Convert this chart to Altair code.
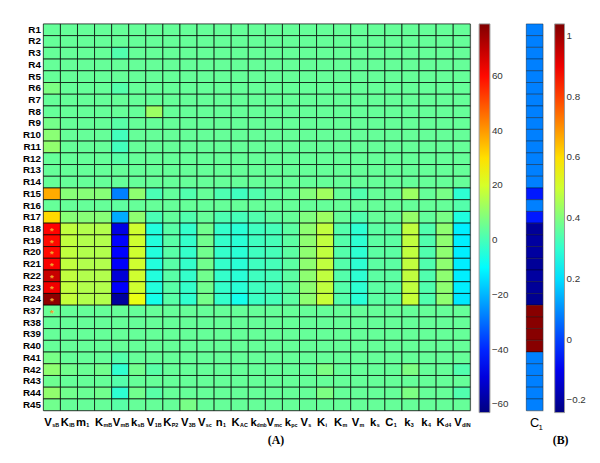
import altair as alt
import pandas as pd

# ---------------- data ----------------
rows = ["R1", "R2", "R3", "R4", "R5", "R6", "R7", "R8", "R9", "R10", "R11", "R12",
        "R13", "R14", "R15", "R16", "R17", "R18", "R19", "R20", "R21", "R22", "R23",
        "R24", "R37", "R38", "R39", "R40", "R41", "R42", "R43", "R44", "R45"]

cols = ["VsB", "KIB", "m1", "KmB", "VmB", "ksB", "V1B", "KP2", "V3B", "Vsc", "n1", "KAC",
        "kdmb", "Vmc", "kpc", "Vs", "Ki", "Km", "Vm", "ks", "C1", "k3", "k4", "Kd4", "VdIN"]

r01 = [4.5, 4.5, 4.5, 4.5, 4.5, 4.5, 4.5, 4.5, 4.5, 4.5, 4.5, 4.5, 4.5, 4.5, 4.5, 4.5, 4.5, 4.5, 4.5, 4.5, 4.5, 4.5, 4.5, 4.5, 4.5]
r02 = [4.5, 4.5, 4.5, 4.5, 4.5, 4.5, 4.5, 4.5, 4.5, 4.5, 4.5, 4.5, 4.5, 4.5, 4.5, 4.5, 4.5, 4.5, 4.5, 4.5, 4.5, 4.5, 4.5, 4.5, 4.5]
r03 = [4.5, 4.5, 4.5, 4.5, 1.5, 4.5, 4.5, 4.5, 4.5, 4.5, 4.5, 4.5, 4.5, 4.5, 4.5, 4.5, 4.5, 4.5, 4.5, 4.5, 4.5, 4.5, 4.5, 4.5, 4.5]
r04 = [4.5, 4.5, 4.5, 4.5, 4.5, 4.5, 4.5, 4.5, 4.5, 4.5, 4.5, 4.5, 4.5, 4.5, 4.5, 4.5, 4.5, 4.5, 4.5, 4.5, 4.5, 4.5, 4.5, 4.5, 4.5]
r05 = [4.5, 4.5, 4.5, 4.5, 4.5, 4.5, 4.5, 4.5, 4.5, 4.5, 4.5, 4.5, 4.5, 4.5, 4.5, 4.5, 4.5, 4.5, 4.5, 4.5, 4.5, 4.5, 4.5, 4.5, 4.5]
r06 = [7.5, 4.5, 4.5, 4.5, 2.0, 4.5, 4.5, 4.5, 4.5, 4.5, 4.5, 4.5, 4.5, 4.5, 4.5, 4.5, 4.5, 4.5, 4.5, 4.5, 4.5, 4.5, 4.5, 4.5, 4.5]
r07 = [4.5, 4.5, 4.5, 4.5, 4.5, 4.5, 4.5, 4.5, 4.5, 4.5, 4.5, 4.5, 4.5, 4.5, 4.5, 4.5, 4.5, 4.5, 4.5, 4.5, 4.5, 4.5, 4.5, 4.5, 4.5]
r08 = [4.5, 4.5, 4.5, 4.5, 4.5, 4.5, 12.0, 4.5, 4.5, 4.5, 4.5, 4.5, 4.5, 4.5, 4.5, 4.5, 4.5, 4.5, 4.5, 4.5, 4.5, 4.5, 4.5, 4.5, 4.5]
r09 = [6.5, 4.5, 4.5, 4.5, 2.5, 4.5, 4.5, 4.5, 4.5, 4.5, 4.5, 4.5, 4.5, 4.5, 4.5, 4.5, 4.5, 4.5, 4.5, 4.5, 4.5, 4.5, 4.5, 4.5, 4.5]
r10 = [9.5, 4.5, 4.5, 4.5, -0.5, 4.5, 4.5, 4.5, 4.5, 4.5, 4.5, 4.5, 4.5, 4.5, 4.5, 4.5, 4.5, 4.5, 4.5, 4.5, 4.5, 4.5, 4.5, 4.5, 4.5]
r11 = [10.5, 4.5, 4.5, 4.5, -0.5, 4.5, 4.5, 4.5, 4.5, 4.5, 4.5, 4.5, 4.5, 4.5, 4.5, 4.5, 4.5, 4.5, 4.5, 4.5, 4.5, 4.5, 4.5, 4.5, 4.5]
r12 = [4.5, 4.5, 4.5, 4.5, 2.5, 4.5, 4.5, 4.5, 4.5, 4.5, 4.5, 4.5, 4.5, 4.5, 4.5, 4.5, 4.5, 4.5, 4.5, 4.5, 4.5, 4.5, 4.5, 4.5, 4.5]
r13 = [4.5, 4.5, 4.5, 4.5, 4.5, 4.5, 4.5, 4.5, 4.5, 4.5, 4.5, 4.5, 4.5, 4.5, 4.5, 4.5, 4.5, 4.5, 4.5, 4.5, 4.5, 4.5, 4.5, 4.5, 4.5]
r14 = [4.5, 4.5, 4.5, 4.5, 4.5, 4.5, 4.5, 4.5, 4.5, 4.5, 4.5, 4.5, 4.5, 4.5, 4.5, 4.5, 4.5, 4.5, 4.5, 4.5, 4.5, 4.5, 4.5, 4.5, 4.5]
r15 = [37.5, 9.0, 9.0, 9.0, -27.5, 10.0, 0.5, 4.0, 1.5, 4.5, 1.0, -1.0, 1.5, 3.5, 4.5, 8.5, 12.5, 4.5, 1.5, 4.5, 4.5, 12.0, 4.5, 7.0, -3.5]
r16 = [4.5, 4.5, 4.5, 4.5, 3.5, 4.5, 4.5, 4.5, 4.5, 4.5, 4.5, 4.5, 4.5, 4.5, 4.5, 4.5, 4.5, 4.5, 4.5, 4.5, 4.5, 4.5, 4.5, 4.5, 2.0]
r17 = [31.0, 9.0, 9.0, 9.0, -21.5, 10.0, 0.5, 4.0, 1.5, 4.5, 1.0, 0.0, 1.5, 3.5, 4.5, 8.0, 12.0, 4.5, 1.5, 4.5, 4.5, 11.0, 4.0, 7.0, -5.5]
r18 = [61.0, 17.0, 15.0, 15.0, -49.0, 19.0, -5.0, 2.5, -2.5, 6.0, -2.5, -4.0, -1.0, 0.0, 3.0, 10.0, 17.0, 2.0, -3.5, 3.0, 3.0, 17.0, 1.5, 10.0, -12.0]
r19 = [60.0, 17.0, 15.0, 15.0, -45.0, 19.0, -5.0, 2.5, -2.5, 6.0, -2.5, -4.0, -1.0, 0.0, 3.0, 10.0, 17.0, 2.0, -3.5, 3.0, 3.0, 17.0, 1.5, 10.0, -12.0]
r20 = [60.0, 17.0, 15.0, 15.0, -45.0, 19.0, -5.0, 2.5, -2.5, 6.0, -2.5, -4.0, -1.0, 0.0, 3.0, 10.0, 17.0, 2.0, -3.5, 3.0, 3.0, 17.0, 1.5, 10.0, -12.0]
r21 = [62.0, 17.0, 15.0, 15.0, -46.0, 19.0, -5.0, 2.5, -2.5, 6.0, -2.5, -4.0, -1.0, 0.0, 3.0, 10.0, 17.0, 2.0, -3.5, 3.0, 3.0, 17.0, 1.5, 10.0, -12.0]
r22 = [69.0, 17.0, 15.0, 15.0, -51.0, 19.0, -5.0, 2.5, -2.5, 6.0, -2.5, -4.0, -1.0, 0.0, 3.0, 10.0, 17.0, 2.0, -3.5, 3.0, 3.0, 17.0, 1.5, 10.0, -12.0]
r23 = [63.0, 17.0, 15.0, 15.0, -46.0, 19.0, -5.0, 2.5, -2.5, 6.0, -2.5, -4.0, -1.0, 0.0, 3.0, 10.0, 17.0, 2.0, -3.5, 3.0, 3.0, 17.0, 1.5, 10.0, -12.0]
r24 = [77.0, 17.5, 15.0, 15.0, -59.0, 23.0, -7.0, 2.5, -3.0, 6.5, -2.5, -7.0, -1.5, 0.0, 3.0, 10.0, 18.0, 2.0, -4.0, 3.0, 3.0, 18.0, 1.5, 10.0, -13.0]
r37 = [5.0, 4.5, 4.5, 4.5, 4.5, 4.5, 4.5, 4.5, 4.5, 4.5, 4.5, 4.5, 4.5, 4.5, 4.5, 4.5, 4.5, 4.5, 4.5, 4.5, 4.5, 4.5, 4.5, 4.5, 4.5]
r38 = [4.5, 4.5, 4.5, 4.5, 4.5, 4.5, 4.5, 4.5, 4.5, 4.5, 4.5, 4.5, 4.5, 4.5, 4.5, 4.5, 4.5, 4.5, 4.5, 4.5, 4.5, 4.5, 4.5, 4.5, 4.5]
r39 = [4.5, 4.5, 4.5, 4.5, 4.5, 4.5, 4.5, 4.5, 4.5, 4.5, 4.5, 4.5, 4.5, 4.5, 4.5, 4.5, 4.5, 4.5, 4.5, 4.5, 4.5, 4.5, 4.5, 4.5, 4.5]
r40 = [4.5, 4.5, 4.5, 4.5, 4.5, 4.5, 4.5, 4.5, 4.5, 4.5, 4.5, 4.5, 4.5, 4.5, 4.5, 4.5, 4.5, 4.5, 4.5, 4.5, 4.5, 4.5, 4.5, 4.5, 4.5]
r41 = [7.0, 4.5, 4.5, 4.5, 2.0, 4.5, 4.5, 4.5, 4.5, 4.5, 4.5, 4.5, 4.5, 4.5, 4.5, 4.5, 4.5, 4.5, 4.5, 4.5, 4.5, 4.5, 4.5, 4.5, 4.5]
r42 = [10.0, 6.0, 5.0, 6.0, -3.0, 6.0, 2.5, 4.5, 4.5, 4.5, 4.5, 4.5, 4.5, 4.5, 4.5, 4.5, 7.5, 4.5, 4.5, 4.5, 4.5, 7.5, 4.5, 4.5, 1.5]
r43 = [5.5, 4.5, 4.5, 4.5, 2.0, 4.5, 4.5, 4.5, 4.5, 4.5, 4.5, 4.5, 4.5, 4.5, 4.5, 4.5, 4.5, 4.5, 4.5, 4.5, 4.5, 4.5, 4.5, 4.5, 4.5]
r44 = [10.5, 6.0, 5.0, 6.0, -3.5, 6.0, 2.5, 4.5, 4.5, 4.5, 4.5, 4.5, 4.5, 4.5, 4.5, 4.5, 7.5, 4.5, 4.5, 4.5, 4.5, 7.5, 4.5, 4.5, 1.5]
r45 = [6.0, 4.5, 4.5, 4.5, 2.5, 4.5, 4.5, 4.5, 7.0, 4.5, 4.5, 4.5, 4.5, 4.5, 4.5, 4.5, 4.5, 4.5, 4.5, 4.5, 4.5, 4.5, 4.5, 4.5, 4.5]

matrix = [r01, r02, r03, r04, r05, r06, r07, r08, r09, r10, r11, r12, r13, r14,
          r15, r16, r17, r18, r19, r20, r21, r22, r23, r24,
          r37, r38, r39, r40, r41, r42, r43, r44, r45]

# C1 column (panel B)
c1_values = [0.08, 0.08, 0.08, 0.08, 0.08, 0.08, 0.08, 0.08, 0.08, 0.08, 0.08, 0.08,
             0.08, 0.08, -0.05, 0.08, -0.05, -0.21, -0.2, -0.2, -0.21, -0.2, -0.21,
             -0.22, 1.03, 1.03, 1.03, 1.03, 0.08, 0.08, 0.08, 0.08, 0.08]

marker_rows = ["R18", "R19", "R20", "R21", "R22", "R23", "R24", "R37"]

# ---------------- tables ----------------
records = []
for rname, vals in zip(rows, matrix):
    for cname, v in zip(cols, vals):
        records.append({"row": rname, "col": cname, "value": v})
df = pd.DataFrame(records)

sub_df = pd.DataFrame({"col": cols, "sub": [c[1:] for c in cols]})
sub_wide = sub_df[sub_df["col"] == "kdmb"]
sub_rest = sub_df[sub_df["col"] != "kdmb"]
mark_df = pd.DataFrame({"row": marker_rows, "col": ["VsB"] * len(marker_rows)})
c1_df = pd.DataFrame({"row": rows, "col": ["C1"] * len(rows), "value": c1_values})

jet = ["#000080", "#0000ff", "#00ffff", "#ffff00", "#ff0000", "#800000"]
main_domain = [-63, -45.25, -9.75, 25.75, 61.25, 79]
c1_domain = [-0.24, -0.08, 0.24, 0.56, 0.88, 1.04]

NARROW = "'Liberation Sans Narrow', 'Arial Narrow', 'Liberation Sans', sans-serif"
SERIF = "'Liberation Serif', 'Times New Roman', serif"

W, H = 435, 394

# ---------------- panel A ----------------
heat = alt.Chart(df).mark_rect(stroke="#000000", strokeWidth=1, strokeOpacity=0.72).encode(
    x=alt.X("col:N", sort=cols, scale=alt.Scale(paddingInner=0, paddingOuter=0),
            axis=alt.Axis(title=None, ticks=False, domain=False, labelAngle=0,
                          labelAlign="right", labelBaseline="top",
                          labelExpr="substring(datum.value, 0, 1)",
                          labelFont=NARROW, labelFontSize=11.5, labelFontWeight="bold",
                          labelColor="black", labelPadding=6, labelOverlap=False)),
    y=alt.Y("row:N", sort=rows, scale=alt.Scale(paddingInner=0, paddingOuter=0),
            axis=alt.Axis(title=None, ticks=False, domain=False,
                          labelFont=NARROW, labelFontSize=10, labelFontWeight="bold",
                          labelColor="black", labelPadding=3,
                          minExtent=30, maxExtent=30)),
    color=alt.Color("value:Q",
                    scale=alt.Scale(domain=main_domain, range=jet, interpolate="rgb"),
                    legend=alt.Legend(title=None, orient="right", offset=9, padding=0,
                                      gradientLength=396, gradientThickness=11,
                                      gradientStrokeColor="#999999", gradientStrokeWidth=1,
                                      values=[-60, -40, -20, 0, 20, 40, 60],
                                      labelFont=NARROW, labelFontSize=10,
                                      labelColor="#333333", labelOffset=2)),
)

subs = alt.Chart(sub_rest).mark_text(align="left", baseline="alphabetic", dx=0.3,
                                     font=NARROW, fontSize=5.5, fontWeight="bold",
                                     color="black").encode(
    x=alt.X("col:N", sort=cols),
    y=alt.value(H + 16.5),
    text="sub:N",
)

subs_wide = alt.Chart(sub_wide).mark_text(align="left", baseline="alphabetic", dx=0,
                                          font=NARROW, fontSize=4.8, fontWeight="bold",
                                          color="black").encode(
    x=alt.X("col:N", sort=cols),
    y=alt.value(H + 16.5),
    text="sub:N",
)

markers = alt.Chart(mark_df).mark_text(text="*", fontSize=10, fontWeight="bold",
                                       color="#f0a030", dy=2).encode(
    x=alt.X("col:N", sort=cols),
    y=alt.Y("row:N", sort=rows),
)

label_a = alt.Chart(pd.DataFrame({"t": ["(A)"]})).mark_text(
    font=SERIF, fontSize=12, fontWeight="bold", color="black", baseline="alphabetic"
).encode(x=alt.value(237), y=alt.value(H + 34), text="t:N")

panel_a = alt.layer(heat, subs, subs_wide, markers, label_a).properties(width=W, height=H)

# ---------------- panel B ----------------
c1_rect = alt.Chart(c1_df).mark_rect(stroke="#000000", strokeWidth=0.8, strokeOpacity=0.45).encode(
    x=alt.X("col:N", scale=alt.Scale(paddingInner=0, paddingOuter=0),
            axis=alt.Axis(title=None, ticks=False, domain=False, labelAngle=0,
                          labelAlign="center", labelBaseline="top",
                          labelExpr="substring(datum.value, 0, 1)",
                          labelFont=NARROW, labelFontSize=13, labelColor="black",
                          labelPadding=6)),
    y=alt.Y("row:N", sort=rows, scale=alt.Scale(paddingInner=0, paddingOuter=0), axis=None),
    color=alt.Color("value:Q",
                    scale=alt.Scale(domain=c1_domain, range=jet, interpolate="rgb"),
                    legend=alt.Legend(title=None, orient="right", offset=12, padding=0,
                                      gradientLength=396, gradientThickness=10,
                                      gradientStrokeColor="#999999", gradientStrokeWidth=1,
                                      values=[-0.2, 0, 0.2, 0.4, 0.6, 0.8, 1],
                                      format=".1~f",
                                      labelFont=NARROW, labelFontSize=10,
                                      labelColor="#333333", labelOffset=2)),
)

c1_sub = alt.Chart(pd.DataFrame({"col": ["C1"], "sub": ["1"]})).mark_text(
    align="left", baseline="alphabetic", dx=4, font=NARROW, fontSize=8, color="black"
).encode(x="col:N", y=alt.value(H + 20), text="sub:N")

label_b = alt.Chart(pd.DataFrame({"t": ["(B)"]})).mark_text(
    font=SERIF, fontSize=12, fontWeight="bold", color="black", baseline="alphabetic"
).encode(x=alt.value(35), y=alt.value(H + 34), text="t:N")

panel_b = alt.layer(c1_rect, c1_sub, label_b).properties(width=17, height=H)

chart = alt.hconcat(panel_a, panel_b, spacing=16).resolve_scale(
    color="independent", x="independent", y="independent"
).properties(
    padding={"left": 5, "top": 11, "right": 5, "bottom": 5}
).configure_view(stroke="#aaaaaa").configure(font="Liberation Sans")

chart.save("out.html", embed_options={"renderer": "svg", "actions": False})
